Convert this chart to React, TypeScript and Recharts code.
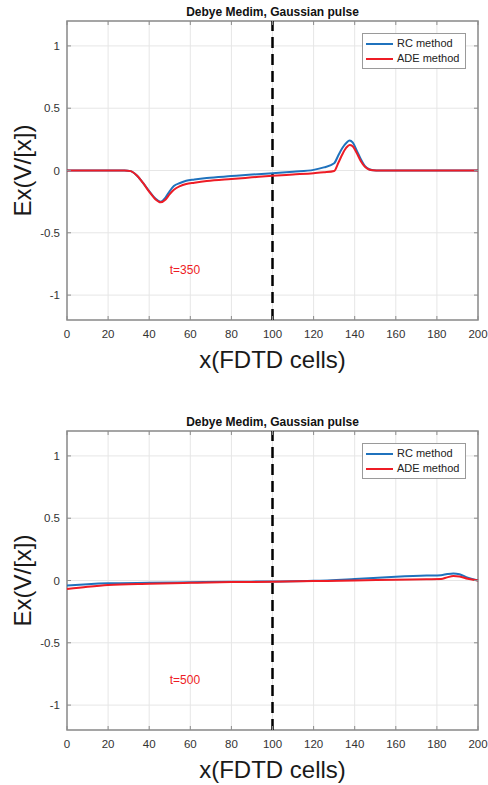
import React from 'react';
import {
  LineChart,
  Line,
  XAxis,
  YAxis,
  CartesianGrid,
  ReferenceLine,
  ReferenceArea,
  ReferenceDot,
  Legend,
  Label,
} from 'recharts';

// field snapshot at t = 350
const xTop = [
  0, 20, 28, 31, 34, 37, 40, 43, 45.5, 48, 50, 52, 55, 58, 62, 68, 80, 90, 100,
  110, 120, 125, 130, 132, 134, 136, 137.5, 139, 141, 143, 145, 147, 149, 152,
  170, 200,
];
const rcTop = [
  0, 0, 0, -0.005, -0.04, -0.1, -0.165, -0.225, -0.25, -0.215, -0.165, -0.125,
  -0.1, -0.082, -0.072, -0.06, -0.045, -0.033, -0.023, -0.01, 0.005, 0.025,
  0.058, 0.12, 0.18, 0.222, 0.24, 0.225, 0.16, 0.09, 0.035, 0.01, 0.002, 0, 0,
  0,
];
const adeTop = [
  0, 0, 0, -0.005, -0.04, -0.1, -0.17, -0.23, -0.255, -0.232, -0.19, -0.155,
  -0.125, -0.108, -0.098, -0.085, -0.068, -0.055, -0.042, -0.032, -0.022,
  -0.015, -0.004, 0.06, 0.13, 0.185, 0.205, 0.195, 0.14, 0.075, 0.03, 0.008,
  0.002, 0, 0, 0,
];

// field snapshot at t = 500
const xBottom = [0, 10, 20, 40, 60, 80, 100, 120, 140, 160, 175, 182, 185, 188, 191, 195, 200];
const rcBottom = [
  -0.04, -0.03, -0.023, -0.018, -0.014, -0.01, -0.008, -0.003, 0.012, 0.03,
  0.04, 0.043, 0.052, 0.057, 0.05, 0.022, 0,
];
const adeBottom = [
  -0.068, -0.05, -0.036, -0.026, -0.019, -0.013, -0.01, -0.005, 0, 0.006, 0.01,
  0.012, 0.025, 0.036, 0.032, 0.014, 0,
];

const xTicks = [0, 20, 40, 60, 80, 100, 120, 140, 160, 180, 200];
const yTicks = [-1, -0.5, 0, 0.5, 1];

const TITLE = 'Debye Medim, Gaussian pulse';
const FONT = '"Liberation Sans", Arial, Helvetica, sans-serif';
const RC_COLOR = '#1f72bd';
const ADE_COLOR = '#ee1c25';
const AXIS = '#8c8c8c';
const TEXT = '#333333';

const SERIES = [
  { key: 'rc', name: 'RC method', color: RC_COLOR },
  { key: 'ade', name: 'ADE method', color: ADE_COLOR },
];

const CHART_W = 488;
const CHART_H = 375;
const PLOT_W = 411;
const PLOT_H = 299;

const toRows = (xs: number[], rc: number[], ade: number[]) =>
  xs.map((x, i) => ({ x, rc: rc[i], ade: ade[i] }));

const XTick = ({ x, y, payload }: any) => (
  <g>
    <line x1={x} y1={y} x2={x} y2={y - 4} stroke={AXIS} />
    <line x1={x} y1={y - PLOT_H} x2={x} y2={y - PLOT_H + 4} stroke={AXIS} />
    <text
      x={x}
      y={y + 14}
      textAnchor="middle"
      dominantBaseline="central"
      fontFamily={FONT}
      fontSize={11.5}
      fill={TEXT}
    >
      {payload.value}
    </text>
  </g>
);

const YTick = ({ x, y, payload }: any) => (
  <g>
    <line x1={x} y1={y} x2={x + 4} y2={y} stroke={AXIS} />
    <line x1={x + PLOT_W} y1={y} x2={x + PLOT_W - 4} y2={y} stroke={AXIS} />
    <text
      x={x - 7}
      y={y}
      textAnchor="end"
      dominantBaseline="central"
      fontFamily={FONT}
      fontSize={11.5}
      fill={TEXT}
    >
      {payload.value}
    </text>
  </g>
);

// legend keeps the plotting order (RC first), not alphabetical
const LegendBox = () => (
  <div
    style={{
      border: '1px solid #9a9a9a',
      background: '#fff',
      padding: '2px 4px 2px 3px',
      fontFamily: FONT,
      fontSize: 11,
      color: '#222',
      lineHeight: '15px',
      boxSizing: 'border-box',
    }}
  >
    {SERIES.map((s) => (
      <div key={s.key} style={{ display: 'flex', alignItems: 'center' }}>
        <span
          style={{
            display: 'inline-block',
            width: 27,
            height: 2,
            background: s.color,
            marginRight: 4,
          }}
        />
        {s.name}
      </div>
    ))}
  </div>
);

interface PanelProps {
  data: { x: number; rc: number; ade: number }[];
  note: string;
}

const Panel = ({ data, note }: PanelProps) => (
  <div style={{ position: 'relative', width: CHART_W, height: CHART_H }}>
    <div
      style={{
        position: 'absolute',
        top: 4,
        left: 67,
        width: PLOT_W,
        textAlign: 'center',
        fontFamily: FONT,
        fontWeight: 'bold',
        fontSize: 12,
        lineHeight: '16px',
        color: '#111',
      }}
    >
      {TITLE}
    </div>
    <LineChart
      width={CHART_W}
      height={CHART_H}
      data={data}
      margin={{ top: 21, right: 10, left: 0, bottom: 0 }}
    >
      <CartesianGrid stroke="#e6e6e6" strokeWidth={1} />
      <XAxis
        dataKey="x"
        type="number"
        domain={[0, 200]}
        ticks={xTicks}
        height={55}
        axisLine={false}
        tickLine={false}
        tickSize={0}
        tickMargin={0}
        tick={<XTick />}
        interval={0}
      >
        <Label
          content={({ viewBox }: any) => (
            <text
              x={viewBox.x + viewBox.width / 2}
              y={viewBox.y + 39}
              textAnchor="middle"
              dominantBaseline="central"
              fontFamily={FONT}
              fontSize={24}
              fill="#1a1a1a"
            >
              x(FDTD cells)
            </text>
          )}
        />
      </XAxis>
      <YAxis
        type="number"
        domain={[-1.2, 1.2]}
        ticks={yTicks}
        width={67}
        axisLine={false}
        tickLine={false}
        tickSize={0}
        tickMargin={0}
        tick={<YTick />}
        interval={0}
      >
        <Label
          content={({ viewBox }: any) => {
            const cx = viewBox.x + 22;
            const cy = viewBox.y + viewBox.height / 2;
            return (
              <text
                x={cx}
                y={cy}
                transform={`rotate(-90 ${cx} ${cy})`}
                textAnchor="middle"
                dominantBaseline="central"
                fontFamily={FONT}
                fontSize={24}
                fill="#1a1a1a"
              >
                Ex(V/[x])
              </text>
            );
          }}
        />
      </YAxis>
      <ReferenceArea
        x1={0}
        x2={200}
        y1={-1.2}
        y2={1.2}
        fill="none"
        fillOpacity={0}
        stroke={AXIS}
        strokeWidth={1.5}
      />
      <ReferenceLine x={100} stroke="#000" strokeWidth={2.5} strokeDasharray="11 6" />
      <ReferenceDot x={50} y={-0.8} r={0} fill="none" stroke="none">
        <Label
          content={({ viewBox }: any) => (
            <text
              x={viewBox.x}
              y={viewBox.y + viewBox.height / 2}
              textAnchor="start"
              dominantBaseline="central"
              fontFamily={FONT}
              fontSize={12}
              fill={ADE_COLOR}
            >
              {note}
            </text>
          )}
        />
      </ReferenceDot>
      {SERIES.map((s) => (
        <Line
          key={s.key}
          type="monotone"
          dataKey={s.key}
          name={s.name}
          stroke={s.color}
          strokeWidth={2}
          dot={false}
          isAnimationActive={false}
        />
      ))}
      <Legend
        layout="horizontal"
        verticalAlign="middle"
        content={<LegendBox />}
        wrapperStyle={{ top: 33, left: 362, width: 104, height: 'auto' }}
      />
    </LineChart>
  </div>
);

export default function App() {
  return (
    <div style={{ position: 'absolute', left: 0, top: 0, width: 488, height: 785, background: '#fff' }}>
      <Panel data={toRows(xTop, rcTop, adeTop)} note="t=350" />
      <div style={{ height: 35 }} />
      <Panel data={toRows(xBottom, rcBottom, adeBottom)} note="t=500" />
    </div>
  );
}
